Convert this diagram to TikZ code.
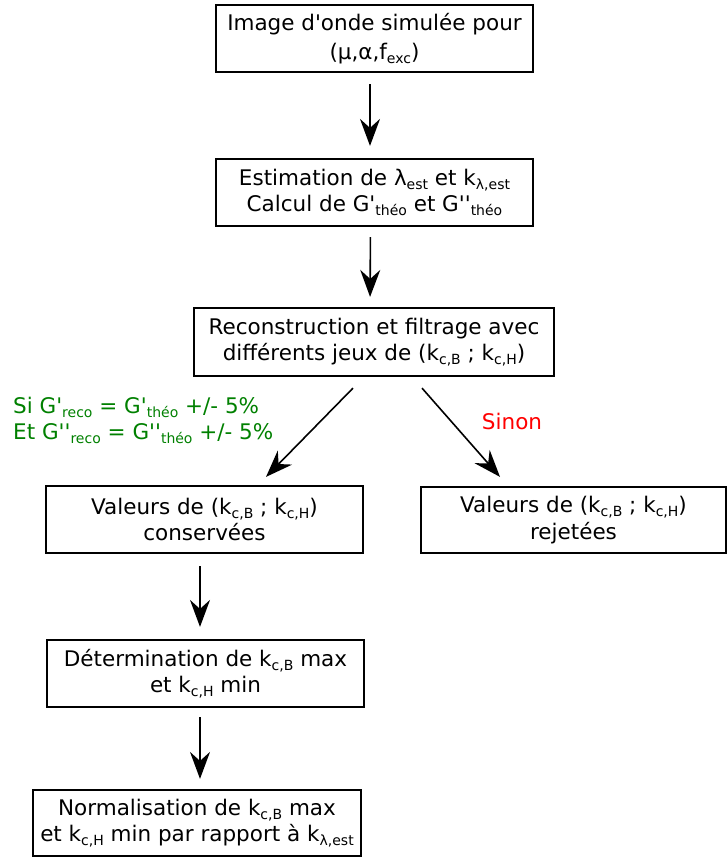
\documentclass[tikz,border=0pt]{standalone}
\usepackage{fontspec}
\setmainfont{DejaVu Sans}[Ligatures=TeXOff]
\usetikzlibrary{arrows.meta}
\definecolor{okgreen}{RGB}{0,128,0}
\definecolor{nored}{RGB}{255,0,0}
\newcommand{\sbs}[1]{\raisebox{-4pt}{\fontsize{14}{14}\selectfont #1}}
\tikzset{
  box/.style={draw=black, line width=2.2pt, inner sep=0pt, align=center,
    font=\fontsize{21.5}{26.5}\selectfont},
  arr/.style={line width=1.6pt, -{Stealth[length=27pt,width=20pt,inset=9pt]}},
  lbl/.style={inner sep=0pt, font=\fontsize{21.5}{26}\selectfont}
}
\begin{document}
\begin{tikzpicture}[x=1pt,y=-1pt]
\useasboundingbox (0,0) rectangle (727,857);
\node[box, minimum width=317pt, minimum height=67pt, font=\fontsize{21.5}{29.5}\selectfont] (b1) at (374.5,38.5)
  {Image d'onde simulée pour\\(μ,α,f\sbs{exc})};
\node[box, minimum width=317pt, minimum height=67pt] (b2) at (374.5,192.5)
  {Estimation de λ\sbs{est} et k\sbs{λ,est}\\Calcul de G'\sbs{théo} et G''\sbs{théo}};
\node[box, minimum width=360pt, minimum height=68pt] (b3) at (374,342)
  {Reconstruction et filtrage avec\\différents jeux de (k\sbs{c,B} ; k\sbs{c,H})};
\node[box, minimum width=317pt, minimum height=67pt] (b4) at (204.5,519.5)
  {Valeurs de (k\sbs{c,B} ; k\sbs{c,H})\\conservées};
\node[box, minimum width=305pt, minimum height=66pt] (b5) at (573.5,520)
  {Valeurs de (k\sbs{c,B} ; k\sbs{c,H})\\rejetées};
\node[box, minimum width=317pt, minimum height=67pt] (b6) at (205.5,673.5)
  {Détermination de k\sbs{c,B} max\\et k\sbs{c,H} min};
\node[box, minimum width=328pt, minimum height=66pt] (b7) at (197,823)
  {Normalisation de k\sbs{c,B} max\\et k\sbs{c,H} min par rapport à k\sbs{λ,est}};
\node[lbl, text=okgreen, anchor=north west, align=left] (cond) at (13,397)
  {Si G'\sbs{reco} = G'\sbs{théo} +/- 5\%\\Et G''\sbs{reco} = G''\sbs{théo} +/- 5\%};
\node[lbl, text=nored] (sinon) at (512,421) {Sinon};
\draw[arr, shorten <=11pt, shorten >=12pt] ([xshift=-4.5pt]b1.south) -- ([xshift=-4.5pt]b2.north);
\draw[arr, shorten <=10pt, shorten >=10pt] ([xshift=-4pt]b2.south) -- ([xshift=-4pt]b3.north);
\draw[arr] ([xshift=-21pt,yshift=-11pt]b3.south) -- ([xshift=61.5pt,yshift=8pt]b4.north);
\draw[arr] ([xshift=48pt,yshift=-11pt]b3.south) -- ([xshift=-73.5pt,yshift=9pt]b5.north);
\draw[arr, shorten <=12pt, shorten >=12pt] ([xshift=-4.5pt]b4.south) -- ([xshift=-4.5pt]b4.south |- b6.north);
\draw[arr, shorten <=9pt, shorten >=10pt] ([xshift=-5.5pt]b6.south) -- ([xshift=-5.5pt]b6.south |- b7.north);
\end{tikzpicture}
\end{document}
